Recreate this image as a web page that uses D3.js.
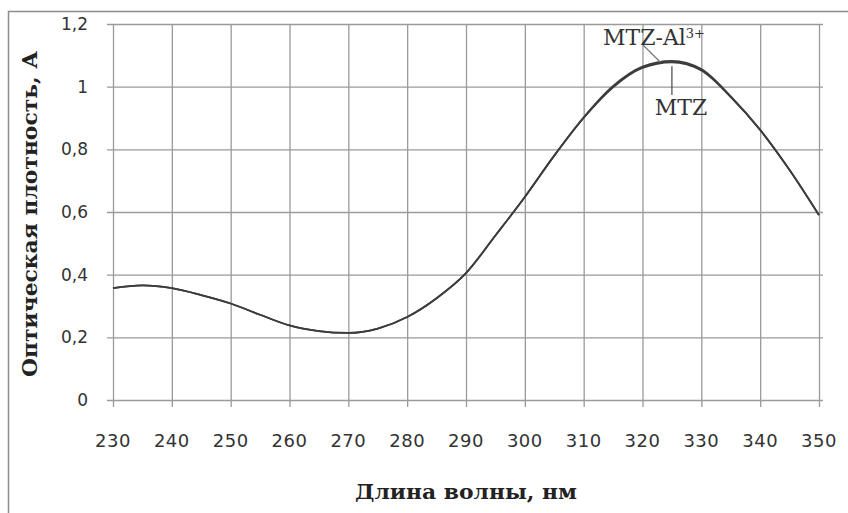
<!DOCTYPE html>
<html>
<head>
<meta charset="utf-8">
<script src="https://cdn.jsdelivr.net/npm/d3@7"></script>
<style>
  html, body { margin: 0; padding: 0; background: #fff; }
  svg { display: block; }
</style>
</head>
<body>
<svg id="chart" width="848" height="513"></svg>
<script>
// Absorption spectra, wavelength in nm
const wavelengths = [230, 235, 240, 245, 250, 255, 260, 265, 270, 275, 280, 285, 290, 295, 300, 305, 310, 315, 320, 325, 330, 335, 340, 345, 350];
const mtz   = [0.357, 0.366, 0.357, 0.335, 0.308, 0.272, 0.238, 0.220, 0.214, 0.228, 0.265, 0.325, 0.405, 0.525, 0.648, 0.780, 0.900, 0.998, 1.060, 1.078, 1.052, 0.967, 0.862, 0.734, 0.590];
const mtzAl = [0.357, 0.366, 0.357, 0.335, 0.308, 0.272, 0.238, 0.220, 0.214, 0.228, 0.265, 0.325, 0.405, 0.525, 0.648, 0.780, 0.902, 1.002, 1.064, 1.082, 1.056, 0.969, 0.862, 0.734, 0.590];
const xTicks = [230, 240, 250, 260, 270, 280, 290, 300, 310, 320, 330, 340, 350];
const yTicks = [0, 0.2, 0.4, 0.6, 0.8, 1, 1.2];
const yTickLabels = ["0", "0,2", "0,4", "0,6", "0,8", "1", "1,2"];
const xTitle = "Длина волны, нм";
const yTitle = "Оптическая плотность, А";

const svg = d3.select("#chart");
const plot = { left: 113, right: 819, top: 24, bottom: 400 };

const x = d3.scaleLinear().domain([230, 350]).range([plot.left, plot.right]);
const y = d3.scaleLinear().domain([0, 1.2]).range([plot.bottom, plot.top]);

// outer frame
svg.append("path")
  .attr("d", "M8.5,513 V11.5 H848")
  .attr("fill", "none").attr("stroke", "#8c8c8c").attr("stroke-width", 1.5);

const gridColor = "#9a9a9a";

// horizontal gridlines with left tick stubs
svg.append("g")
  .attr("transform", `translate(${plot.left},0)`)
  .call(d3.axisLeft(y).tickValues(yTicks)
    .tickSize(-(plot.right - plot.left + 4)).tickSizeOuter(0).tickFormat(""))
  .call(g => g.select(".domain").remove())
  .call(g => g.selectAll(".tick line")
    .attr("x1", -6).attr("stroke", gridColor).attr("stroke-width", 1.3));

// vertical gridlines with bottom tick stubs
svg.append("g")
  .attr("transform", `translate(0,${plot.bottom})`)
  .call(d3.axisBottom(x).tickValues(xTicks)
    .tickSize(-(plot.bottom - plot.top)).tickSizeOuter(0).tickFormat(""))
  .call(g => g.select(".domain").remove())
  .call(g => g.selectAll(".tick line")
    .attr("y1", 7).attr("stroke", gridColor).attr("stroke-width", 1.3));

// tick labels
svg.append("g").selectAll("text")
  .data(yTicks)
  .join("text")
  .attr("x", 88)
  .attr("y", d => y(d))
  .attr("dy", "0.35em")
  .attr("text-anchor", "end")
  .attr("font-family", "'DejaVu Sans', sans-serif")
  .attr("font-size", 17)
  .attr("fill", "#333")
  .text((d, i) => yTickLabels[i]);

svg.append("g").selectAll("text")
  .data(xTicks)
  .join("text")
  .attr("x", d => x(d))
  .attr("y", 441)
  .attr("dy", "0.35em")
  .attr("text-anchor", "middle")
  .attr("font-family", "'DejaVu Sans', sans-serif")
  .attr("font-size", 18)
  .attr("letter-spacing", 0.5)
  .attr("fill", "#333")
  .text(d => d);

// axis titles
svg.append("text")
  .attr("x", 466).attr("y", 492).attr("dy", "0.35em")
  .attr("text-anchor", "middle")
  .attr("font-family", "'DejaVu Serif', serif")
  .attr("font-weight", "bold").attr("font-size", 20)
  .attr("fill", "#222")
  .attr("textLength", 222).attr("lengthAdjust", "spacingAndGlyphs")
  .text(xTitle);

svg.append("text")
  .attr("transform", "translate(30,214) rotate(-90)")
  .attr("dy", "0.35em")
  .attr("text-anchor", "middle")
  .attr("font-family", "'DejaVu Serif', serif")
  .attr("font-weight", "bold").attr("font-size", 20)
  .attr("fill", "#222")
  .attr("textLength", 326).attr("lengthAdjust", "spacingAndGlyphs")
  .text(yTitle);

// spectra
const line = d3.line()
  .x((d, i) => x(wavelengths[i]))
  .y(d => y(d))
  .curve(d3.curveMonotoneX);

[mtzAl, mtz].forEach(series => {
  svg.append("path")
    .datum(series)
    .attr("d", line)
    .attr("fill", "none")
    .attr("stroke", "#3c3c3c")
    .attr("stroke-width", 1.8);
});

// series labels with leader lines
const peakIdx = wavelengths.indexOf(325);
svg.append("line")
  .attr("x1", 643).attr("y1", 45)
  .attr("x2", x(323)).attr("y2", y(mtzAl[peakIdx]) + 1)
  .attr("stroke", "#777").attr("stroke-width", 1.2);
svg.append("line")
  .attr("x1", x(325)).attr("y1", y(mtz[peakIdx]) + 4)
  .attr("x2", x(325)).attr("y2", 95)
  .attr("stroke", "#444").attr("stroke-width", 1.2);

const labAl = svg.append("text")
  .attr("x", 603).attr("y", 37).attr("dy", "0.35em")
  .attr("font-family", "'DejaVu Serif', serif")
  .attr("font-size", 22).attr("fill", "#333");
labAl.append("tspan").text("MTZ-Al");
labAl.append("tspan").attr("font-size", 13).attr("dy", "-0.5em").text("3+");

svg.append("text")
  .attr("x", 681).attr("y", 107).attr("dy", "0.35em")
  .attr("text-anchor", "middle")
  .attr("font-family", "'DejaVu Serif', serif")
  .attr("font-size", 22).attr("fill", "#333")
  .text("MTZ");
</script>
</body>
</html>
